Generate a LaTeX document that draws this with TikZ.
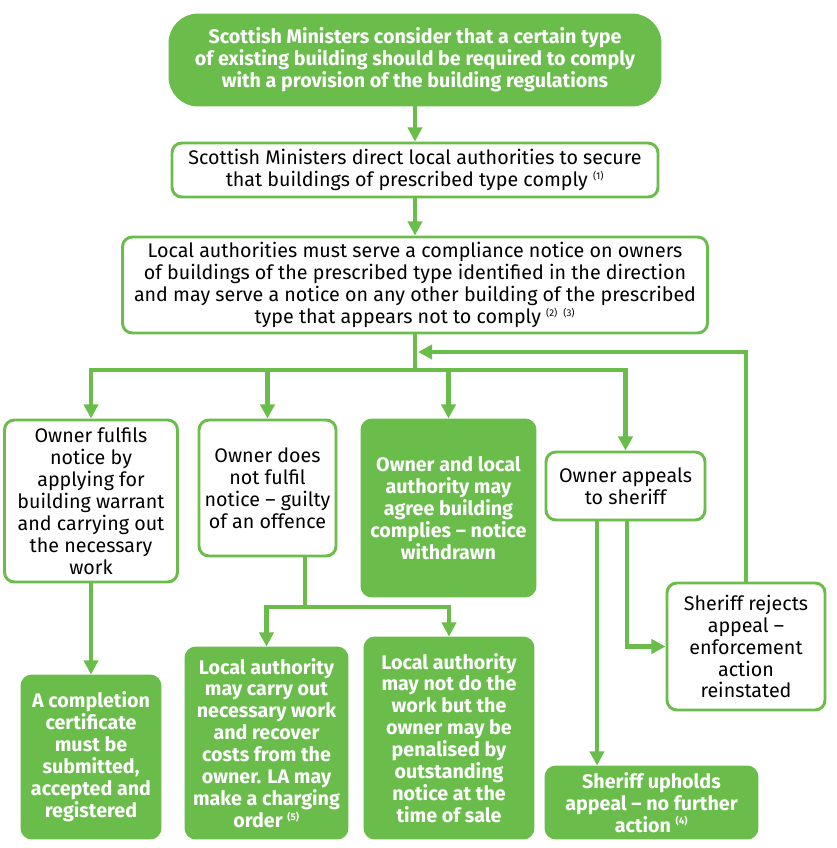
\documentclass[tikz,border=0pt]{standalone}
\usepackage{fontspec}
\setmainfont{Fira Sans}
\usetikzlibrary{arrows.meta}
\definecolor{sgreen}{RGB}{106,189,75}
\newcommand{\refno}[1]{\textsuperscript{\fontsize{7}{7}\selectfont(#1)}}
\tikzset{
  box/.style={draw=sgreen, line width=2.1pt, fill=white, rounded corners=7pt,
    align=center, inner sep=0pt, font=\fontsize{14}{15.6}\selectfont},
  fullbox/.style={box, fill=sgreen, text=white,
    font=\fontsize{14}{15.6}\selectfont\bfseries},
  link/.style={draw=sgreen, line width=3.5pt},
  arr/.style={link, -{Triangle[length=10pt,width=10pt]}}
}
\begin{document}
\begin{tikzpicture}[x=0.025cm,y=-0.025cm]
\useasboundingbox (0,0) rectangle (836,848);
% top of the chart
\node[fullbox, rounded corners=20pt, minimum width=490*0.025cm, minimum height=90*0.025cm]
  (consider) at (415,60) {Scottish Ministers consider that a certain type\\
  of existing building should be required to comply\\
  with a provision of the building regulations};
\node[box, minimum width=486*0.025cm, minimum height=54*0.025cm]
  (direct) at (415,170) {Scottish Ministers direct local authorities to secure\\
  that buildings of prescribed type comply \refno{1}};
\node[box, minimum width=585*0.025cm, minimum height=96*0.025cm]
  (notice) at (415,285) {Local authorities must serve a compliance notice on owners\\
  of buildings of the prescribed type identified in the direction\\
  and may serve a notice on any other building of the prescribed\\
  type that appears not to comply \refno{2} \refno{3}};
% four outcomes
\node[box, minimum width=173*0.025cm, minimum height=162*0.025cm]
  (fulfil) at (91,501) {Owner fulfils\\ notice by\\ applying for\\ building warrant\\
  and carrying out\\ the necessary\\ work};
\node[box, minimum width=137*0.025cm, minimum height=136*0.025cm]
  (nofulfil) at (267.5,488) {Owner does\\ not fulfil\\ notice -- guilty\\ of an offence};
\node[fullbox, minimum width=173*0.025cm, minimum height=176*0.025cm]
  (agree) at (448.5,508) {Owner and local\\ authority may\\ agree building\\
  complies -- notice\\ withdrawn};
\node[box, minimum width=159*0.025cm, minimum height=68*0.025cm]
  (appeal) at (625.5,486) {Owner appeals\\ to sheriff};
% results
\node[fullbox, minimum width=138*0.025cm, minimum height=162*0.025cm]
  (cert) at (91,757) {A completion\\ certificate\\ must be\\ submitted,\\
  accepted and\\ registered};
\node[fullbox, minimum width=161*0.025cm, minimum height=190*0.025cm]
  (lawork) at (266.5,743) {Local authority\\ may carry out\\ necessary work\\
  and recover\\ costs from the\\ owner. LA may\\ make a charging\\ order \refno{5}};
\node[fullbox, minimum width=168*0.025cm, minimum height=200*0.025cm]
  (lanot) at (449,738) {Local authority\\ may not do the\\ work but the\\
  owner may be\\ penalised by\\ outstanding\\ notice at the\\ time of sale};
\node[fullbox, minimum width=211*0.025cm, minimum height=71*0.025cm]
  (upholds) at (651.5,802.5) {Sheriff upholds\\ appeal -- no further\\ action \refno{4}};
\node[box, minimum width=158*0.025cm, minimum height=127*0.025cm]
  (rejects) at (746,646.5) {Sheriff rejects\\ appeal --\\ enforcement\\ action\\ reinstated};
% connectors
\coordinate (split) at (415,370);
\coordinate (back) at (418,352);
\coordinate (fork) at (305,607);
\draw[arr] (consider) -- (direct);
\draw[arr] (direct) -- (notice);
\draw[link] (notice.south) -- (split);
\foreach \n in {fulfil,nofulfil,agree,appeal}
  \draw[arr] (split) -| (\n.north);
\draw[arr] (rejects.north) |- (back);
\draw[arr] (fulfil) -- (cert);
\draw[link] (nofulfil.south -| fork) -- (fork);
\draw[arr] (fork) -| (lawork.north);
\draw[arr] (fork) -| (lanot.north);
\path (appeal.south) ++(-28.5,0) coordinate (upx);
\path (appeal.south) ++(1.5,0) coordinate (rejx);
\draw[arr] (upx) -- (upx |- upholds.north);
\draw[arr] (rejx) |- (rejects.west);
\end{tikzpicture}
\end{document}
